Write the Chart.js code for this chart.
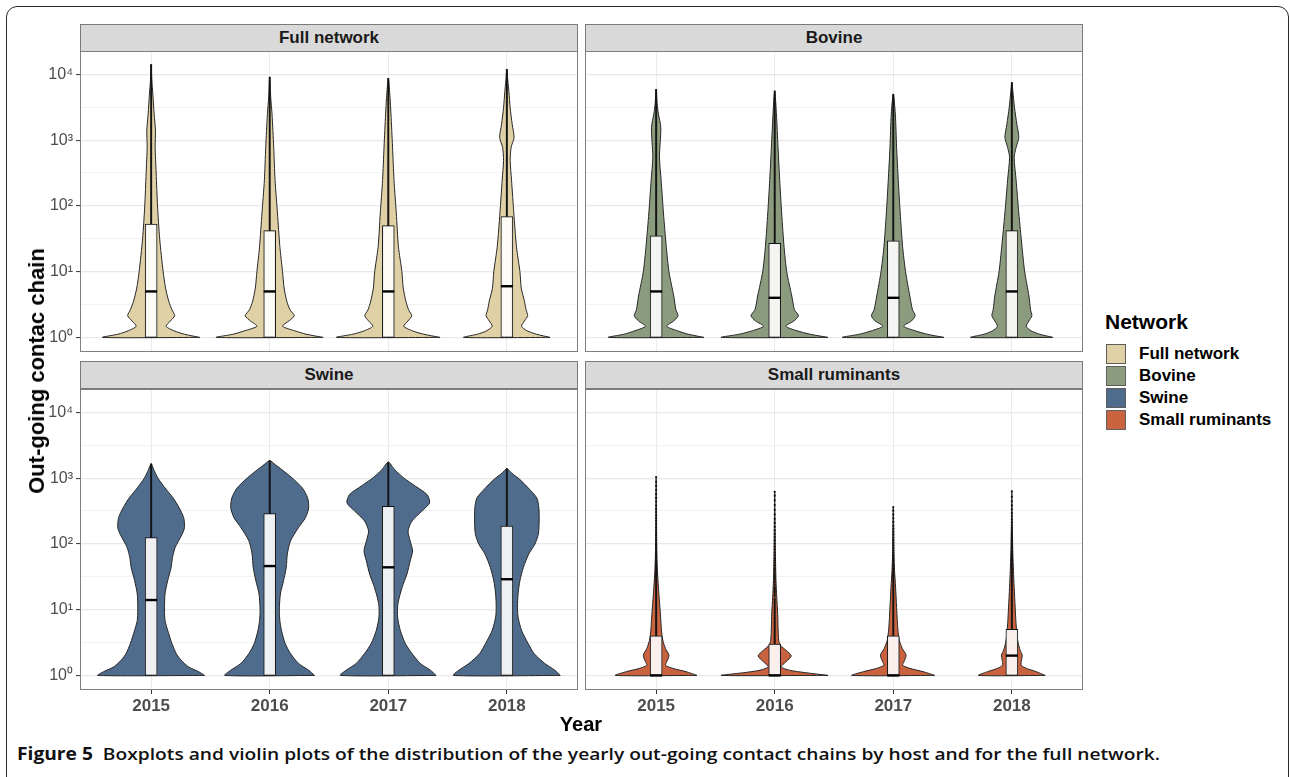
<!DOCTYPE html>
<html>
<head>
<meta charset="utf-8">
<script src="https://cdn.jsdelivr.net/npm/chart.js@4.4.1/dist/chart.umd.min.js"></script>
<style>
html,body{margin:0;padding:0;background:#fff;}
body{width:1290px;height:777px;position:relative;overflow:hidden;font-family:"Liberation Sans",Arial,sans-serif;}
.frame{position:absolute;left:6px;top:6px;width:1283px;height:790px;border:1.2px solid #2b2b2b;border-radius:11px;box-sizing:border-box;}
.strip{position:absolute;box-sizing:border-box;background:#d9d9d9;border:1px solid #7a7a7a;color:#1a1a1a;font-weight:bold;font-size:17px;display:flex;align-items:center;justify-content:center;}
.pane{position:absolute;}
.pane canvas{display:block;}
.ytitle{position:absolute;left:37px;top:371px;transform:translate(-50%,-50%) rotate(-90deg);font-weight:bold;font-size:22px;color:#000;white-space:nowrap;}
.xtitle{position:absolute;left:581px;top:724px;transform:translate(-50%,-50%);font-weight:bold;font-size:20px;color:#000;white-space:nowrap;}
.legtitle{position:absolute;left:1105px;top:322px;transform:translateY(-50%);font-weight:bold;font-size:21px;color:#000;white-space:nowrap;}
.key{position:absolute;left:1106px;width:20px;height:20px;box-sizing:border-box;border:1px solid #5e5e5e;}
.keylab{position:absolute;left:1139px;transform:translateY(-50%);font-weight:bold;font-size:17px;color:#000;white-space:nowrap;}
.caption{position:absolute;left:17px;top:754px;transform-origin:0 50%;font-family:"Open Sans","Noto Sans",sans-serif;font-weight:600;font-size:17px;color:#111;white-space:nowrap;line-height:20px;margin-top:-10px;}
.caption b{font-weight:700;}
</style>
</head>
<body>
<div class="frame"></div>

<div class="strip" style="left:80px;top:24px;width:498px;height:28px;">Full network</div>
<div class="strip" style="left:585px;top:24px;width:498px;height:28px;">Bovine</div>
<div class="strip" style="left:80px;top:361px;width:498px;height:28px;">Swine</div>
<div class="strip" style="left:585px;top:361px;width:498px;height:28px;">Small ruminants</div>

<div class="pane" style="left:0px;top:51px;"><canvas id="c0" width="578" height="301"></canvas></div>
<div class="pane" style="left:585px;top:51px;"><canvas id="c1" width="498" height="301"></canvas></div>
<div class="pane" style="left:0px;top:389px;"><canvas id="c2" width="578" height="341"></canvas></div>
<div class="pane" style="left:585px;top:389px;"><canvas id="c3" width="498" height="341"></canvas></div>

<div class="ytitle">Out-going contac chain</div>
<div class="xtitle">Year</div>

<div class="legtitle">Network</div>
<div id="legend"></div>

<div class="caption" id="caption"><b>Figure 5</b>&nbsp; Boxplots and violin plots of the distribution of the yearly out-going contact chains by host and for the full network.</div>

<script>
// ---------------- DATA ----------------
const years = ['2015', '2016', '2017', '2018'];
const networks = ['Full network', 'Bovine', 'Swine', 'Small ruminants'];
const yTickLabels = ['10\u2070', '10\u00B9', '10\u00B2', '10\u00B3', '10\u2074'];
const yTickValues = [1, 10, 100, 1000, 10000];

// violin profiles: [value, relative density] from bottom (min) to top (max)
const fullViolins = [
  [[1,0.91],[1.12,0.62],[1.26,0.43],[1.48,0.28],[1.78,0.36],[2.14,0.44],[2.63,0.39],[3.55,0.33],[5.62,0.27],[10,0.225],[31.6,0.16],[100,0.12],[316,0.094],[794,0.075],[1413,0.081],[2512,0.056],[5012,0.032],[7943,0.013],[14100,0]],
  [[1,1.0],[1.12,0.68],[1.26,0.47],[1.48,0.24],[1.78,0.36],[2.14,0.46],[2.63,0.38],[3.55,0.32],[5.62,0.27],[10,0.24],[24,0.19],[78,0.145],[245,0.10],[776,0.075],[2512,0.043],[4467,0.019],[9100,0]],
  [[1,0.97],[1.12,0.66],[1.26,0.45],[1.48,0.29],[1.78,0.37],[2.14,0.44],[2.63,0.38],[3.55,0.33],[5.62,0.28],[10,0.255],[24,0.19],[78,0.15],[245,0.107],[776,0.08],[2512,0.05],[4467,0.032],[8700,0]],
  [[1,0.81],[1.12,0.55],[1.26,0.38],[1.48,0.275],[1.78,0.33],[2.14,0.39],[2.63,0.36],[3.55,0.33],[5.62,0.27],[10,0.245],[24,0.18],[78,0.13],[245,0.088],[490,0.062],[776,0.08],[1100,0.135],[1740,0.10],[3100,0.062],[5500,0.038],[7900,0.019],[11900,0]]
];
const bovineViolins = [
  [[1,0.895],[1.12,0.6],[1.26,0.4],[1.48,0.2],[1.78,0.33],[2.14,0.41],[2.63,0.37],[4.26,0.33],[10,0.24],[24,0.19],[78,0.137],[245,0.094],[550,0.062],[1550,0.088],[2500,0.043],[3550,0.019],[5900,0]],
  [[1,1.0],[1.12,0.66],[1.26,0.42],[1.48,0.21],[1.78,0.36],[2.14,0.445],[2.63,0.37],[4.26,0.32],[10,0.225],[24,0.175],[78,0.13],[245,0.094],[776,0.062],[2512,0.032],[5600,0]],
  [[1,0.95],[1.12,0.63],[1.26,0.41],[1.48,0.195],[1.78,0.34],[2.14,0.41],[2.63,0.36],[4.26,0.31],[10,0.23],[24,0.175],[78,0.13],[245,0.094],[776,0.062],[2512,0.038],[5000,0]],
  [[1,0.77],[1.12,0.52],[1.26,0.36],[1.48,0.27],[1.78,0.32],[2.14,0.375],[2.63,0.35],[4.26,0.32],[10,0.24],[24,0.19],[78,0.13],[245,0.08],[550,0.043],[776,0.08],[1100,0.13],[1740,0.094],[3100,0.05],[5500,0.019],[7500,0]]
];
const swineViolins = [
  [[1,1.0],[1.14,0.89],[1.35,0.70],[1.71,0.56],[2.15,0.47],[3.05,0.39],[4.84,0.31],[6.86,0.26],[9.9,0.25],[17.3,0.26],[27.6,0.31],[43.9,0.375],[62,0.40],[88,0.45],[140,0.58],[177,0.625],[250,0.61],[354,0.525],[501,0.41],[710,0.26],[1006,0.125],[1343,0.05],[1650,0]],
  [[1,0.84],[1.2,0.73],[1.52,0.54],[2.15,0.39],[3.05,0.29],[4.84,0.22],[6.86,0.19],[9.9,0.18],[17.3,0.20],[27.6,0.26],[43.9,0.31],[70,0.33],[111,0.39],[177,0.54],[250,0.67],[354,0.73],[501,0.71],[710,0.61],[1006,0.42],[1343,0.23],[1600,0.107],[1840,0]],
  [[1,0.895],[1.2,0.79],[1.52,0.60],[2.15,0.445],[3.05,0.32],[4.84,0.225],[7.7,0.175],[12.3,0.18],[21.9,0.26],[34.8,0.35],[55,0.41],[78,0.455],[111,0.41],[157,0.37],[223,0.445],[315,0.63],[422,0.775],[563,0.725],[753,0.51],[1006,0.29],[1343,0.12],[1750,0]],
  [[1,1.0],[1.2,0.90],[1.52,0.71],[2.15,0.51],[3.05,0.40],[4.84,0.275],[7.7,0.21],[10.9,0.20],[17.3,0.21],[27.6,0.245],[43.9,0.31],[70,0.41],[99,0.525],[140,0.59],[223,0.605],[354,0.60],[501,0.56],[710,0.40],[949,0.245],[1197,0.088],[1390,0]]
];
const smallViolins = [
  [[1,0.765],[1.14,0.56],[1.28,0.31],[1.43,0.175],[1.61,0.20],[2.03,0.24],[2.56,0.175],[3.42,0.125],[4.84,0.10],[6.86,0.088],[10.9,0.07],[21.9,0.043],[39,0.024],[70,0.013],[223,0.006],[1040,0]],
  [[1,1.0],[1.1,0.58],[1.2,0.275],[1.35,0.12],[1.61,0.21],[1.98,0.31],[2.42,0.21],[2.87,0.107],[3.42,0.075],[5.44,0.062],[8.65,0.056],[15.5,0.038],[27.6,0.024],[70,0.013],[223,0.006],[620,0]],
  [[1,0.775],[1.14,0.56],[1.28,0.31],[1.43,0.175],[1.61,0.20],[2.03,0.24],[2.56,0.17],[3.42,0.113],[4.84,0.088],[6.86,0.075],[10.9,0.062],[21.9,0.043],[39,0.024],[70,0.013],[223,0.006],[363,0]],
  [[1,0.625],[1.14,0.455],[1.28,0.27],[1.43,0.175],[1.7,0.18],[2.03,0.195],[2.42,0.155],[3.05,0.12],[4.31,0.094],[6.86,0.075],[10.9,0.062],[21.9,0.043],[39,0.03],[70,0.019],[223,0.006],[630,0]]
];

// boxplot statistics per year
const fullQ1 = [1, 1, 1, 1];
const fullMedian = [5, 5, 5, 6];
const fullQ3 = [53, 42, 50, 69];
const fullUpper = [14100, 9100, 8700, 11900];

const bovineQ1 = [1, 1, 1, 1];
const bovineMedian = [5, 4, 4, 5];
const bovineQ3 = [35, 27, 29.5, 42];
const bovineUpper = [5900, 5600, 5000, 7500];

const swineQ1 = [1, 1, 1, 1];
const swineMedian = [14, 46, 44, 29];
const swineQ3 = [125, 290, 371, 187];
const swineUpper = [1650, 1840, 1750, 1390];

const smallQ1 = [1, 1, 1, 1];
const smallMedian = [1, 1, 1, 2];
const smallQ3 = [4, 3, 4, 5];
const smallUpper = [31, 15, 31, 55];
const smallOutliers = [
  [32,33,34,35,36,38,40,42,44,46,48,50,53,56,60,64,68,72,77,83,90,97,105,115,125,137,150,165,180,200,222,248,275,305,340,385,440,500,570,660,760,880,1040],
  [16,17,18,19,20,21,22,24,26,28,30,32,34,37,40,43,47,51,56,61,67,74,82,91,101,113,127,142,160,182,208,240,280,330,390,460,540,620],
  [32,33,34,36,38,40,42,45,48,51,55,59,63,68,74,80,87,95,104,114,125,138,153,170,190,215,245,280,320,363],
  [56,58,60,63,66,69,72,76,80,85,90,96,103,110,118,127,137,148,160,175,192,212,235,262,295,335,385,445,520,630]
];

// ---------------- STYLE / LAYOUT ----------------
const fills = ['#E0D0A5', '#8B9C7E', '#506C8D', '#C9623F'];
const maxHalfWidth = 0.45;           // ggplot violin width 0.9
const yMin = Math.pow(10, -0.19);
const yMax = Math.pow(10, 4.355);

const panels = [
  {id:'c0', violins: fullViolins, q1: fullQ1, med: fullMedian, q3: fullQ3, hi: fullUpper, out: null, fill: fills[0], yAxis: true, xAxis: false},
  {id:'c1', violins: bovineViolins, q1: bovineQ1, med: bovineMedian, q3: bovineQ3, hi: bovineUpper, out: null, fill: fills[1], yAxis: false, xAxis: false},
  {id:'c2', violins: swineViolins, q1: swineQ1, med: swineMedian, q3: swineQ3, hi: swineUpper, out: null, fill: fills[2], yAxis: true, xAxis: true},
  {id:'c3', violins: smallViolins, q1: smallQ1, med: smallMedian, q3: smallQ3, hi: smallUpper, out: smallOutliers, fill: fills[3], yAxis: false, xAxis: true}
];

// grid positions: decades (major) and half-decades (minor)
const yGrid = [];
yTickValues.forEach((v, i) => { yGrid.push(v); if (i < yTickValues.length - 1) yGrid.push(Math.sqrt(v * yTickValues[i + 1])); });
const isMajor = v => yTickValues.some(t => Math.abs(t - v) / t < 1e-6);

function violinPoints(profile, pos) {
  const right = profile.map(([v, d]) => ({x: pos + d * maxHalfWidth, y: v}));
  const left = profile.slice().reverse().map(([v, d]) => ({x: pos - d * maxHalfWidth, y: v}));
  return right.concat(left.slice(1), [right[0]]);
}

const panelBorder = {
  id: 'panelBorder',
  afterDraw(chart) {
    const {ctx, chartArea: a} = chart;
    ctx.save();
    ctx.strokeStyle = '#7f7f7f';
    ctx.lineWidth = 1;
    ctx.strokeRect(a.left + 0.5, a.top + 0.5, a.right - a.left - 1, a.bottom - a.top - 1);
    ctx.restore();
  }
};

function makePanel(p) {
  const datasets = [];
  p.violins.forEach((prof, i) => {
    datasets.push({type: 'line', data: violinPoints(prof, i + 1), backgroundColor: p.fill, borderColor: '#262626',
      borderWidth: 1, fill: 'shape', pointRadius: 0, pointHitRadius: 0, tension: 0.25, order: 5});
  });
  datasets.push({type: 'bar', data: years.map((y, i) => ({x: i + 1, y: [p.q3[i], p.hi[i]]})),
    backgroundColor: '#141414', borderWidth: 0, barThickness: 1.3, maxBarThickness: 1.3, grouped: false, order: 4});
  datasets.push({type: 'bar', data: years.map((y, i) => ({x: i + 1, y: [p.q1[i], p.q3[i]]})),
    backgroundColor: 'rgba(255,255,255,0.9)', borderColor: '#141414', borderWidth: 1, borderSkipped: false,
    barThickness: 12, maxBarThickness: 12, grouped: false, order: 3});
  datasets.push({type: 'line', showLine: false, data: years.map((y, i) => ({x: i + 1, y: p.med[i]})),
    pointStyle: 'line', pointRadius: 6, pointBorderWidth: 2.4, pointBorderColor: '#000', order: 2});
  if (p.out) {
    const pts = [];
    p.out.forEach((arr, i) => arr.forEach(v => pts.push({x: i + 1, y: v})));
    datasets.push({type: 'line', showLine: false, data: pts, pointRadius: 1.1, pointBackgroundColor: '#111',
      pointBorderWidth: 0, order: 1});
  }
  new Chart(document.getElementById(p.id), {
    type: 'line',
    data: {datasets},
    options: {
      responsive: false, animation: false, devicePixelRatio: 1, events: [],
      layout: {padding: 0, autoPadding: false},
      plugins: {legend: {display: false}, tooltip: {enabled: false}},
      scales: {
        x: {
          type: 'linear', min: 0.4, max: 4.6, offset: false,
          afterBuildTicks: s => { s.ticks = years.map((y, i) => ({value: i + 1})); },
          afterFit: s => { s.height = p.xAxis ? 40 : 0; s.paddingLeft = 0; s.paddingRight = 0; },
          grid: {offset: false, color: '#ebebeb', lineWidth: 1, drawTicks: p.xAxis, tickLength: 4, tickColor: '#333', tickWidth: 1},
          border: {display: false},
          ticks: {display: p.xAxis, autoSkip: false, maxRotation: 0, padding: 2, color: '#4d4d4d',
            font: {family: 'Liberation Sans', size: 17, weight: 'bold'},
            callback: v => years[Math.round(v) - 1] || ''}
        },
        y: {
          type: 'logarithmic', min: yMin, max: yMax,
          afterBuildTicks: s => { s.ticks = yGrid.map(v => ({value: v})); },
          afterFit: s => { s.width = p.yAxis ? 80 : 0; s.paddingTop = 0; s.paddingBottom = 0; },
          grid: {
            color: c => (c.tick && isMajor(c.tick.value)) ? '#e8e8e8' : '#f2f2f2',
            lineWidth: c => (c.tick && isMajor(c.tick.value)) ? 1.2 : 1,
            drawTicks: p.yAxis, tickLength: 4, tickWidth: 1,
            tickColor: c => (c.tick && isMajor(c.tick.value)) ? '#333' : 'rgba(0,0,0,0)'
          },
          border: {display: false},
          ticks: {display: p.yAxis, autoSkip: false, padding: 3, color: '#4d4d4d',
            font: {family: 'Liberation Sans', size: 16},
            callback: v => { const k = yTickValues.findIndex(t => Math.abs(t - v) / t < 1e-6); return k >= 0 ? yTickLabels[k] : ''; }}
        }
      }
    },
    plugins: [panelBorder]
  });
}
panels.forEach(makePanel);

// legend
const leg = document.getElementById('legend');
networks.forEach((n, i) => {
  const k = document.createElement('div');
  k.className = 'key'; k.style.top = (344 + i * 22) + 'px'; k.style.background = fills[i];
  leg.appendChild(k);
  const l = document.createElement('div');
  l.className = 'keylab'; l.style.top = (354 + i * 22) + 'px'; l.textContent = n;
  leg.appendChild(l);
});

// caption width fit
function fitCaption() {
  const c = document.getElementById('caption');
  c.style.transform = 'none';
  const w = c.getBoundingClientRect().width;
  c.style.transform = 'scaleX(' + (1143 / w) + ')';
}
fitCaption();
if (document.fonts && document.fonts.ready) document.fonts.ready.then(fitCaption);
</script>
</body>
</html>
